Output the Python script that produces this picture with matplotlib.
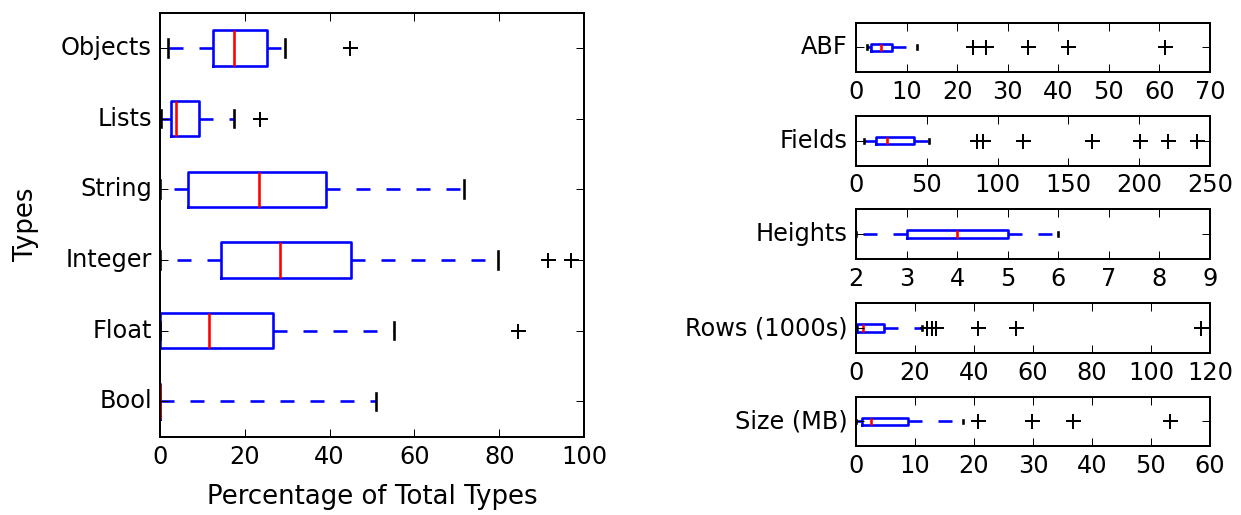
import matplotlib
matplotlib.use("Agg")
import matplotlib.pyplot as plt

plt.style.use("classic")

# ---- Left panel data (percentage of total types) ----
type_labels = ["Bool", "Float", "Integer", "String", "Lists", "Objects"]
type_whislo = [0.0, 0.0, 0.0, 0.0, 0.3, 2.0]
type_q1 = [0.0, 0.0, 14.5, 6.7, 2.5, 12.6]
type_med = [0.0, 11.6, 28.3, 23.4, 3.8, 17.5]
type_q3 = [0.0, 26.6, 45.0, 39.1, 9.3, 25.3]
type_whishi = [50.9, 55.1, 79.6, 71.7, 17.5, 29.5]
type_fliers = [[], [84.4], [91.4, 96.9], [], [23.6], [44.8]]

# ---- Right panels data ----
meta_labels = ["ABF", "Fields", "Heights", "Rows (1000s)", "Size (MB)"]
meta_whislo = [2.1, 5.6, 2.0, 0.0, 0.0]
meta_q1 = [2.9, 14.1, 3.0, 0.3, 1.1]
meta_med = [5.0, 21.7, 4.0, 2.5, 2.5]
meta_q3 = [7.2, 41.2, 5.0, 9.6, 8.8]
meta_whishi = [12.0, 51.8, 6.0, 22.3, 18.1]
meta_fliers = [
    [23.1, 25.8, 34.1, 42.0, 61.1],
    [85.2, 89.9, 117.7, 166.9, 200.6, 220.6, 241.1],
    [],
    [24.2, 25.7, 27.1, 41.5, 54.1, 116.8],
    [20.6, 29.9, 36.8, 53.2],
]
meta_xlim = [(0, 70), (0, 250), (2, 9), (0, 120), (0, 60)]

W, H = 1241, 515
fig = plt.figure(figsize=(W / 144, H / 144), dpi=144, facecolor="white")

LW = 1.3
boxprops = dict(color="b", linewidth=LW)
whiskerprops = dict(color="b", linestyle=(0, (7.0, 8.0)), linewidth=LW)
capprops = dict(color="k", linewidth=LW)
medianprops = dict(color="r", linewidth=LW)
flierprops = dict(marker="+", markeredgecolor="k", markerfacecolor="k",
                  markersize=7.5, markeredgewidth=1.0, linestyle="none")


def make_stats(labels, lo, q1, med, q3, hi, fl):
    out = []
    for i in range(len(labels)):
        out.append(dict(label=labels[i], whislo=lo[i], q1=q1[i], med=med[i],
                        q3=q3[i], whishi=hi[i], fliers=fl[i]))
    return out


# Left axes
axL = fig.add_axes([160 / W, 1 - 436.7 / H, (584 - 160) / W, (436.7 - 12.5) / H])
statsL = make_stats(type_labels, type_whislo, type_q1, type_med, type_q3,
                    type_whishi, type_fliers)
axL.bxp(statsL, vert=False, widths=0.5, boxprops=boxprops,
        whiskerprops=whiskerprops, capprops=capprops,
        medianprops=medianprops, flierprops=flierprops)
axL.set_xlim(0, 100)
axL.set_ylim(0.5, 6.5)
axL.set_xlabel("Percentage of Total Types", fontsize=13, labelpad=7.5)
axL.set_ylabel("Types", fontsize=13, labelpad=11)

# Right axes
tops = [22.5, 116.0, 209.3, 303.3, 396.7]
ax_h = 49.5
for i in range(len(meta_labels)):
    ax = fig.add_axes([856 / W, 1 - (tops[i] + ax_h) / H, (1210 - 856) / W, ax_h / H])
    st = make_stats([meta_labels[i]], [meta_whislo[i]], [meta_q1[i]],
                    [meta_med[i]], [meta_q3[i]], [meta_whishi[i]],
                    [meta_fliers[i]])
    ax.bxp(st, vert=False, widths=0.15, boxprops=boxprops,
           whiskerprops=whiskerprops, capprops=capprops,
           medianprops=medianprops, flierprops=flierprops)
    ax.set_xlim(*meta_xlim[i])
    ax.set_ylim(0.5, 1.5)

fig.savefig("out.png", dpi=144, facecolor="white")
